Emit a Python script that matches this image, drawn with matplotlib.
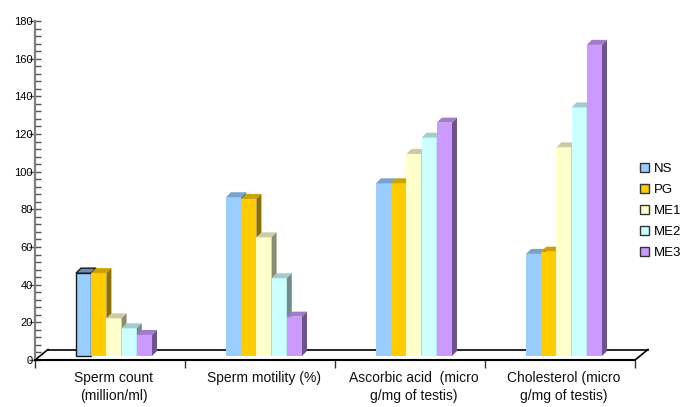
import matplotlib
matplotlib.use("Agg")
import matplotlib.pyplot as plt
from matplotlib.patches import Polygon, Patch
from matplotlib.transforms import offset_copy, blended_transform_factory
from matplotlib.ticker import MultipleLocator

plt.rcParams["font.family"] = ["Liberation Sans", "DejaVu Sans"]

categories = ["Sperm count\n(million/ml)", "Sperm motility (%)",
              "Ascorbic acid  (micro\ng/mg of testis)", "Cholesterol (micro\ng/mg of testis)"]
groups = ["NS", "PG", "ME1", "ME2", "ME3"]
ns = [44.0, 84.3, 91.7, 54.2]
pg = [44.0, 83.4, 91.7, 55.4]
me1 = [20.0, 63.0, 107.3, 110.8]
me2 = [14.7, 41.3, 115.9, 132.0]
me3 = [11.2, 20.9, 123.9, 165.2]
series = [ns, pg, me1, me2, me3]

front_colors = ["#99CCFF", "#FFCC00", "#FFFFCC", "#CCFFFF", "#CC99FF"]
top_colors = ["#7AA3CC", "#CCA300", "#CCCCA3", "#A3CCCC", "#A37ACC"]
side_colors = ["#54708C", "#8C7000", "#8C8C70", "#708C8C", "#6E548C"]

W, H = 691, 407
fig = plt.figure(figsize=(W / 100, H / 100), dpi=100)
ax_l, ax_b, ax_w, ax_h = 35, 47, 600, 339
ax = fig.add_axes([ax_l / W, ax_b / H, ax_w / W, ax_h / H])
ax.set_xlim(0, 4)
ax.set_ylim(0, 180)

# pixel -> data unit conversions
xpx = 4 / ax_w
ypx = 180 / ax_h

# bars sit slightly behind the front edge of the floor
tr = offset_copy(ax.transData, fig=fig, x=4, y=4, units="dots")
bw = 15.2 * xpx
dx, dy = 5 * xpx, 5 * ypx

for c in range(len(categories)):
    left0 = c + 0.5 - 2.5 * bw
    for k, vals in enumerate(series):
        v = vals[c]
        x0 = left0 + k * bw
        x1 = x0 + bw
        outlined = (c == 0 and k == 0)
        ec = "#1a1a1a" if outlined else "none"
        lw = 1.0 if outlined else 0
        ax.bar([x0], [v], width=bw, align="edge", color=front_colors[k],
               edgecolor=ec, linewidth=lw, transform=tr, zorder=3)
        ax.add_patch(Polygon([(x0, v), (x1, v), (x1 + dx, v + dy), (x0 + dx, v + dy)],
                             closed=True, facecolor="#6F8DB0" if outlined else top_colors[k],
                             edgecolor=ec, linewidth=lw, transform=tr, zorder=3))
        ax.add_patch(Polygon([(x1, 0), (x1 + dx, dy), (x1 + dx, v + dy), (x1, v)],
                             closed=True, facecolor=side_colors[k],
                             edgecolor="none", linewidth=0, transform=tr, zorder=3))

# floor outline
fx, fy = 13 * xpx, 10.5 * ypx
floor_kw = dict(color="black", lw=1.2, clip_on=False, zorder=2)
ax.plot([fx, 4 + fx], [fy, fy], **floor_kw)
ax.plot([0, fx], [0, fy], **floor_kw)
ax.plot([4, 4 + fx], [0, fy], **floor_kw)

# axes styling
for s in ("top", "right"):
    ax.spines[s].set_visible(False)
ax.spines["left"].set_color("#808080")
ax.spines["left"].set_linewidth(1.6)
ax.spines["bottom"].set_color("black")
ax.spines["bottom"].set_linewidth(1.5)
ax.spines["bottom"].set_zorder(4)

ax.yaxis.set_major_locator(MultipleLocator(20))
ax.yaxis.set_minor_locator(MultipleLocator(4))
ax.tick_params(axis="y", which="major", direction="inout", length=8, width=1,
               color="#555555", labelsize=8, pad=-2.5)
ax.tick_params(axis="y", which="minor", direction="in", length=4, width=1, color="#555555")
ax.set_xticks([0, 1, 2, 3, 4])
ax.set_xticklabels([])
ax.tick_params(axis="x", which="major", direction="out", length=6, width=1, color="#333333")

lab_tr = blended_transform_factory(ax.transData, ax.transAxes)
for c, name in enumerate(categories):
    ax.text(c + 0.5 + 4 * xpx, -11 / ax_h, name, transform=lab_tr, ha="center", va="top",
            fontsize=10, linespacing=1.35, color="#111111")

handles = [Patch(facecolor=front_colors[k], edgecolor="#333333", linewidth=1.0, label=g)
           for k, g in enumerate(groups)]
fig.legend(handles=handles, loc="center left", bbox_to_anchor=(640 / W, 1 - 211 / H),
           frameon=False, fontsize=9.5, handlelength=0.65, handleheight=0.65,
           handletextpad=0.4, labelspacing=0.68, borderpad=0, borderaxespad=0)

fig.savefig("out.png", dpi=100)
